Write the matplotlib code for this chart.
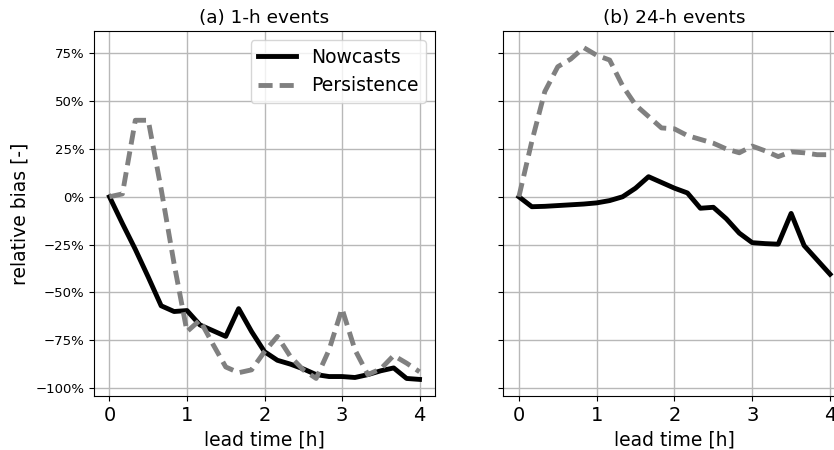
"""Relative bias of nowcasts vs persistence for 1-h and 24-h events."""

import matplotlib

matplotlib.use("Agg")
import matplotlib.pyplot as plt
import numpy as np
from matplotlib.ticker import MultipleLocator, PercentFormatter

# === Data (relative bias in %, every 10 min of lead time) ===
lead_time_min = [0, 10, 20, 30, 40, 50, 60, 70, 80, 90, 100, 110, 120,
                 130, 140, 150, 160, 170, 180, 190, 200, 210, 220, 230, 240]

nowcast_1h = [0, -14, -27.5, -42, -57, -60, -59.5, -67, -70, -73, -58.5, -70.5, -81,
              -85.5, -87.5, -90, -93, -94, -94, -94.5, -93, -91, -89.5, -95, -95.5]
persistence_1h = [0, 1.5, 40, 40, 4, -35, -70.5, -64.5, -77, -89, -92, -90.5, -81,
                  -73, -83.5, -90.5, -95, -80, -58.5, -80, -93, -90, -83, -87, -91.5]

nowcast_24h = [0, -5.2, -5, -4.6, -4.2, -3.8, -3.2, -2, 0, 4.5, 10.5, 7.5, 4.5,
               2, -6, -5.5, -11.5, -19, -24, -24.5, -24.8, -8.7, -25.5, -33, -40.5]
persistence_24h = [0, 29, 55, 68, 72, 78, 74, 71.5, 58, 48, 42, 36, 35.5,
                   32, 30, 28, 25, 23, 26.5, 24, 21, 23.5, 23, 22, 22]

panel_titles = ["(a) 1-h events", "(b) 24-h events"]


def draw_panel(ax, lead_h, nowcast, persistence, title):
    ax.plot(lead_h, nowcast, color="black", lw=3.5, label="Nowcasts")
    ax.plot(lead_h, persistence, color="grey", lw=3.5, dashes=(2.9, 1.45),
            label="Persistence")
    ax.set_title(title, fontsize=13.3)
    ax.set_xlabel("lead time [h]", fontsize=13.5)
    ax.set_xticks([0, 1, 2, 3, 4])
    ax.tick_params(axis="x", labelsize=14)
    ax.tick_params(axis="y", labelsize=9.5)
    ax.yaxis.set_major_locator(MultipleLocator(25))
    ax.yaxis.set_major_formatter(PercentFormatter(decimals=0))
    ax.grid(True, color="#b8b8b8", lw=1.0)


def main():
    lead_h = np.array(lead_time_min) / 60.0

    fig = plt.figure(figsize=(8.34, 4.5), dpi=100)
    # right panel runs past the figure edge, as in the cropped original
    ax1 = fig.add_axes([0.1127, 0.12, 0.4089, 0.8111])
    ax2 = fig.add_axes([0.6035, 0.12, 0.4104, 0.8111], sharey=ax1)

    draw_panel(ax1, lead_h, nowcast_1h, persistence_1h, panel_titles[0])
    draw_panel(ax2, lead_h, nowcast_24h, persistence_24h, panel_titles[1])

    ax1.set_ylabel("relative bias [-]", fontsize=13.5)
    ax2.tick_params(axis="y", labelleft=False)
    ax1.legend(loc="upper right", fontsize=13.5)

    fig.savefig("out.png", dpi=100)
    plt.close(fig)


if __name__ == "__main__":
    main()
